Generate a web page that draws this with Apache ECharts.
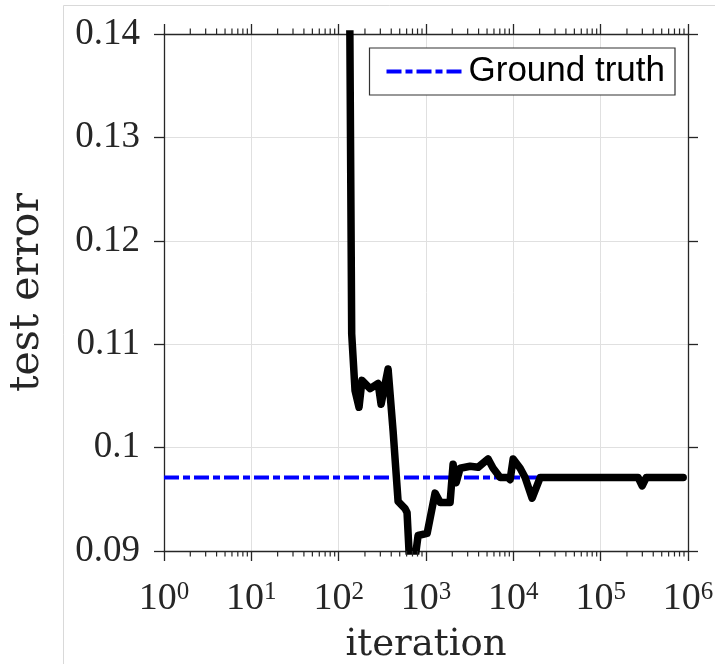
<!DOCTYPE html>
<html>
<head>
<meta charset="utf-8">
<script src="https://cdn.jsdelivr.net/npm/echarts@6/dist/echarts.min.js"></script>
<style>html,body{margin:0;padding:0;background:#fff;}#chart{width:715px;height:664px;}</style>
</head>
<body>
<div id="chart"></div>
<script>
// ---- data ----
const iterations = [130, 141, 154, 171, 185, 229, 283, 306, 368, 420, 479, 576, 607, 645, 740, 812, 1030, 1271, 1452, 1888, 2043, 2213, 2459, 3200, 3954, 5143, 5870, 7061, 8718, 9190, 9952, 11970, 13650, 16410, 20270, 269000, 298700, 332000, 881000];
const testError  = [0.16, 0.111, 0.1055, 0.1039, 0.1065, 0.1057, 0.1062, 0.1042, 0.1076, 0.1016, 0.0948, 0.0941, 0.0937, 0.0893, 0.0889, 0.0915, 0.0917, 0.0956, 0.0947, 0.0947, 0.0984, 0.0966, 0.0980, 0.0982, 0.0981, 0.0989, 0.0980, 0.0971, 0.0971, 0.0969, 0.0989, 0.0980, 0.0971, 0.0951, 0.0971, 0.0971, 0.0963, 0.0971, 0.0971];
const groundTruthX = [1, 881000];
const groundTruthY = [0.0971, 0.0971];
const xTickExponents = ['0', '1', '2', '3', '4', '5', '6'];
const yTickLabels = ['0.09', '0.1', '0.11', '0.12', '0.13', '0.14'];
const minorMantissas = [2, 3, 4, 5, 6, 7, 8, 9];
const minorDecades = [1, 10, 100, 1000, 10000, 100000];

const minorTicks = [];
minorDecades.forEach(d => minorMantissas.forEach(m => minorTicks.push([m * d, 0.09])));

const axisColor = '#262626';
const dashDot = [15, 4, 7, 4];
const chart = echarts.init(document.getElementById('chart'));

const xLabelFmt = v => {
  const e = Math.round(Math.log10(v));
  return '{b|10}{s|' + xTickExponents[e] + '}';
};
const yLabelFmt = v => {
  const i = Math.round((v - 0.09) / 0.01);
  return yTickLabels[i] !== undefined ? yTickLabels[i] : '';
};

chart.setOption({
  animation: false,
  backgroundColor: '#fff',
  grid: { left: 164, right: 27, top: 34, bottom: 113, containLabel: false, outerBoundsMode: 'none' },
  graphic: [
    { type: 'line', shape: { x1: 63.5, y1: 5.5, x2: 63.5, y2: 664 }, style: { stroke: '#d9d9d9', lineWidth: 1 }, silent: true },
    { type: 'line', shape: { x1: 63.5, y1: 5.5, x2: 715, y2: 5.5 }, style: { stroke: '#d9d9d9', lineWidth: 1 }, silent: true }
  ],
  legend: {
    data: ['Ground truth'],
    right: 40,
    top: 48,
    padding: [6, 10, 6, 15],
    borderColor: '#333',
    borderWidth: 1.2,
    backgroundColor: '#fff',
    itemWidth: 77,
    itemHeight: 12,
    itemStyle: { opacity: 0 },
    lineStyle: { width: 4, type: dashDot, color: '#0000ff' },
    textStyle: { fontFamily: 'Liberation Sans, Arial, sans-serif', fontSize: 35, color: '#000' }
  },
  xAxis: [
    {
      type: 'log', logBase: 10, min: 1, max: 1000000, position: 'bottom',
      name: 'iteration', nameLocation: 'middle', nameGap: 76,
      nameTextStyle: { fontFamily: 'DejaVu Serif, serif', fontSize: 37, color: '#262626' },
      axisLine: { show: true, onZero: false, lineStyle: { color: axisColor, width: 1.3 } },
      axisTick: { show: true, inside: false, length: 10, lineStyle: { color: axisColor, width: 1.3 } },
      axisLabel: {
        margin: 29, formatter: xLabelFmt, color: '#262626',
        rich: {
          b: { fontFamily: 'Liberation Serif, serif', fontSize: 38, lineHeight: 38, verticalAlign: 'bottom', color: '#262626' },
          s: { fontFamily: 'Liberation Serif, serif', fontSize: 25, lineHeight: 25, verticalAlign: 'top', color: '#262626' }
        }
      },
      splitLine: { show: true, lineStyle: { color: '#e0e0e0', width: 1 } },
      minorTick: { show: false }
    },
    {
      type: 'log', logBase: 10, min: 1, max: 1000000, position: 'top',
      axisLine: { show: true, onZero: false, lineStyle: { color: axisColor, width: 1.3 } },
      axisTick: { show: true, inside: false, length: 10, lineStyle: { color: axisColor, width: 1.3 } },
      axisLabel: { show: false },
      splitLine: { show: false }
    }
  ],
  yAxis: [
    {
      type: 'value', min: 0.09, max: 0.14, interval: 0.01, position: 'left',
      name: 'test error', nameLocation: 'middle', nameGap: 116, nameRotate: 90,
      nameTextStyle: { fontFamily: 'DejaVu Serif, serif', fontSize: 41, color: '#262626' },
      axisLine: { show: true, onZero: false, lineStyle: { color: axisColor, width: 1.3 } },
      axisTick: { show: true, inside: false, length: 10, lineStyle: { color: axisColor, width: 1.3 } },
      axisLabel: { margin: 24, formatter: yLabelFmt, fontFamily: 'Liberation Serif, serif', fontSize: 37, color: '#262626' },
      splitLine: { show: true, lineStyle: { color: '#e0e0e0', width: 1 } }
    },
    {
      type: 'value', min: 0.09, max: 0.14, interval: 0.01, position: 'right',
      axisLine: { show: true, onZero: false, lineStyle: { color: axisColor, width: 1.3 } },
      axisTick: { show: true, inside: false, length: 10, lineStyle: { color: axisColor, width: 1.3 } },
      axisLabel: { show: false },
      splitLine: { show: false }
    }
  ],
  series: [
    {
      name: 'minor ticks', type: 'custom', silent: true, clip: false, z: 5,
      xAxisIndex: 0, yAxisIndex: 0,
      encode: { x: 0, y: 1 },
      data: minorTicks,
      renderItem: (params, api) => {
        const x = api.value(0);
        const pb = api.coord([x, 0.09]);
        const pt = api.coord([x, 0.14]);
        const st = { stroke: axisColor, lineWidth: 1.2 };
        return {
          type: 'group',
          children: [
            { type: 'line', shape: { x1: pb[0], y1: pb[1], x2: pb[0], y2: pb[1] + 5.5 }, style: st },
            { type: 'line', shape: { x1: pt[0], y1: pt[1], x2: pt[0], y2: pt[1] - 5.5 }, style: st }
          ]
        };
      }
    },
    {
      name: 'Ground truth', type: 'line', symbol: 'none', z: 3,
      data: groundTruthX.map((x, i) => [x, groundTruthY[i]]),
      lineStyle: { color: '#0000ff', width: 4, type: dashDot },
      itemStyle: { color: '#0000ff' }
    },
    {
      name: 'test error', type: 'line', symbol: 'none', z: 4, clip: true,
      data: iterations.map((x, i) => [x, testError[i]]),
      lineStyle: { color: '#000', width: 7.5, cap: 'round', join: 'round' },
      itemStyle: { color: '#000' }
    }
  ]
});
</script>
</body>
</html>
